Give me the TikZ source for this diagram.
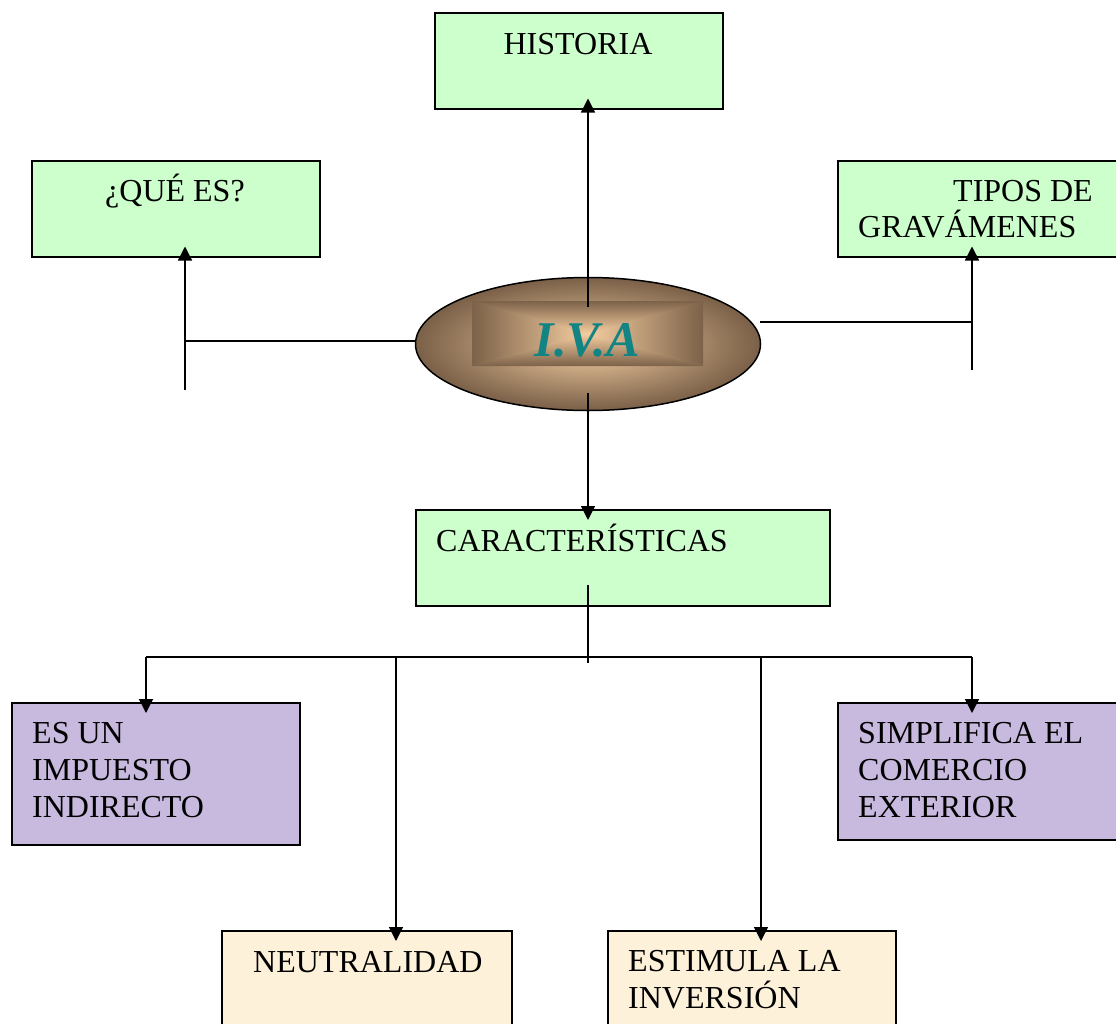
\documentclass[tikz,border=0pt]{standalone}
\usepackage{fontspec}
\setmainfont{Liberation Serif}
\usetikzlibrary{shapes.geometric,arrows.meta}
\definecolor{boxgreen}{HTML}{CCFFCC}
\definecolor{boxlav}{HTML}{C8B9DE}
\definecolor{boxcream}{HTML}{FDF1DA}
\definecolor{ivateal}{HTML}{138484}
\definecolor{brdark}{HTML}{7A6048}
\definecolor{brlight}{HTML}{F6D0A4}
\definecolor{frdark}{HTML}{7C6249}
\definecolor{frlight}{HTML}{F5CDA0}
\tikzset{
  box/.style={draw=black, line width=1.5pt, rectangle, anchor=north west, inner sep=0pt},
  lbl/.style={anchor=base west, inner sep=0pt, font=\fontsize{32}{37}\selectfont, align=left},
  conn/.style={line width=1.5pt, draw=black},
  arr/.style={conn, -{Triangle[length=14pt,width=14pt]}, shorten >=-11pt}
}
\begin{document}
\begin{tikzpicture}[x=1pt,y=-1pt]
\useasboundingbox (0,0) rectangle (1116,1023);
\clip (0,0) rectangle (1116,1023);
% boxes
\node[box, fill=boxgreen, minimum width=288, minimum height=96] (hist) at (434,12) {};
\node[box, fill=boxgreen, minimum width=288, minimum height=96] (que) at (31,160) {};
\node[box, fill=boxgreen, minimum width=290, minimum height=96] (tipos) at (837,160) {};
\node[box, fill=boxgreen, minimum width=414, minimum height=96] (car) at (415,509) {};
\node[box, fill=boxlav, minimum width=288, minimum height=142] (esun) at (11,702) {};
\node[box, fill=boxlav, minimum width=290, minimum height=137] (simp) at (837,702) {};
\node[box, fill=boxcream, minimum width=290, minimum height=110] (neu) at (221,930) {};
\node[box, fill=boxcream, minimum width=288, minimum height=110] (est) at (607,930) {};
% ellipse
\node[ellipse, draw=black, line width=1.5pt, minimum width=345, minimum height=133,
      inner color=brlight, outer color=brdark, inner sep=0pt] (iva) at (588,344) {};
% bevelled frame inside the ellipse
\shade[top color=frdark, bottom color=frlight] (472,301) -- (703,301) -- (587.5,333.5) -- cycle;
\shade[top color=frlight, bottom color=frdark] (472,366) -- (703,366) -- (587.5,333.5) -- cycle;
\shade[left color=frdark, right color=frlight] (472,301) -- (472,366) -- (587.5,333.5) -- cycle;
\shade[left color=frlight, right color=frdark] (703,301) -- (703,366) -- (587.5,333.5) -- cycle;
% labels
\node[lbl, anchor=base] (thist) at (578,54) {HISTORIA};
\node[lbl] (tque) at (105,201) {¿QUÉ ES?};
\node[lbl] (ttipos1) at (953,201) {TIPOS DE};
\node[lbl] (ttipos2) at (858,237) {GRAVÁMENES};
\node[lbl] (tcar) at (436,551) {CARACTERÍSTICAS};
\node[lbl] (tesun) at (32,817) {ES UN\\IMPUESTO\\INDIRECTO};
\node[lbl] (tsimp) at (858,817) {SIMPLIFICA EL\\COMERCIO\\EXTERIOR};
\node[lbl] (tneu) at (253,972) {NEUTRALIDAD};
\node[lbl] (test) at (628,1008) {ESTIMULA LA\\INVERSIÓN};
\node[anchor=base, inner sep=0pt, text=ivateal, font=\fontsize{50}{56}\selectfont\bfseries\itshape] (tiva) at (587,356) {I.V.A};
% connector coordinates
\coordinate (hs) at (588,307);
\coordinate (cs) at (588,393);
\coordinate (lq) at (185,390);
\coordinate (le) at (415,341);
\coordinate (re) at (760,322);
\coordinate (rt) at (972,370);
\coordinate (ct) at (588,585);
\coordinate (cb) at (588,663);
\coordinate (hl) at (146,657);
\coordinate (hr) at (972,657);
\coordinate (hn) at (396,657);
\coordinate (he) at (761,657);
% connectors
\draw[arr] (hs) -- (hs |- hist.south);
\draw[arr] (cs) -- (cs |- car.north);
\draw[conn] (le) -- (le -| lq);
\draw[arr] (lq) -- (lq |- que.south);
\draw[conn] (re) -- (re -| rt);
\draw[arr] (rt) -- (rt |- tipos.south);
\draw[conn] (ct) -- (cb);
\draw[conn] (hl) -- (hr);
\draw[arr] (hl) -- (hl |- esun.north);
\draw[arr] (hr) -- (hr |- simp.north);
\draw[arr] (hn) -- (hn |- neu.north);
\draw[arr] (he) -- (he |- est.north);
\end{tikzpicture}
\end{document}
